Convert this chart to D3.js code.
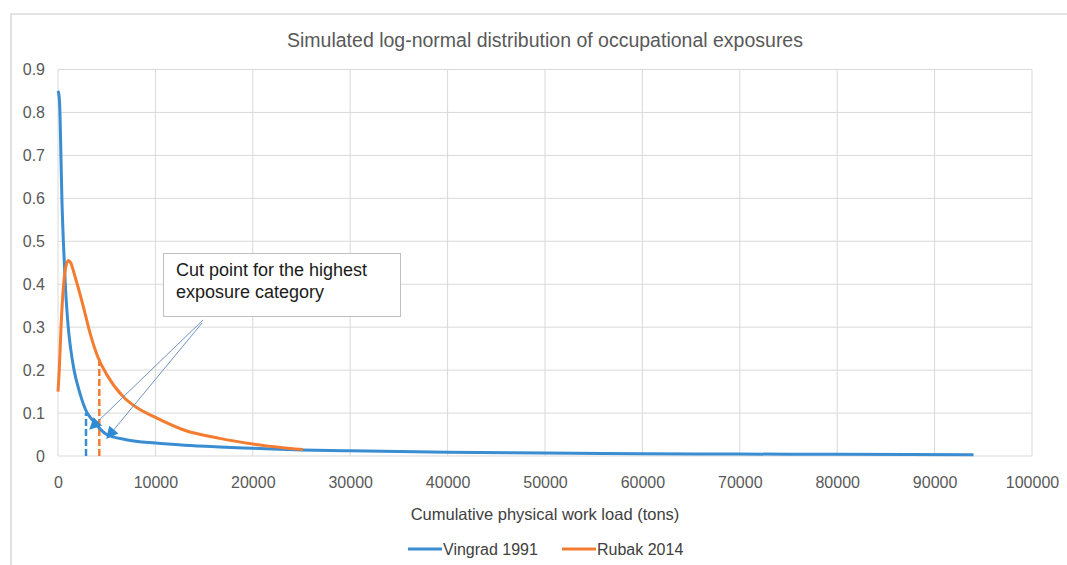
<!DOCTYPE html>
<html lang="en">
<head>
    <meta charset="UTF-8">
    <title>Simulated log-normal distribution</title>
    <script type="text/javascript" src="https://d3js.org/d3.v7.min.js"></script>
    <style>
        body { margin: 0; background: #fff; }
        text { font-family: "Liberation Sans", Arial, sans-serif; }
    </style>
</head>
<body>
<svg width="1067" height="565"></svg>
<script>
    // values
    var vingradX = [0, 100, 200, 300, 400, 550, 750, 1050, 1300, 1650, 2200, 3000, 3500, 5000, 7000, 10000, 13000, 16600, 20000, 25000, 30000, 40000, 50000, 60000, 70000, 80000, 94000];
    var vingradY = [0.85, 0.84, 0.80, 0.70, 0.60, 0.50, 0.40, 0.30, 0.25, 0.20, 0.15, 0.10, 0.085, 0.05, 0.038, 0.03, 0.025, 0.021, 0.018, 0.014, 0.012, 0.009, 0.007, 0.0055, 0.0045, 0.004, 0.003];

    var rubakX = [0, 130, 310, 580, 800, 1060, 1300, 1745, 2600, 3290, 4100, 5000, 6700, 8000, 10000, 13000, 16600, 20000, 25150];
    var rubakY = [0.15, 0.20, 0.30, 0.40, 0.44, 0.455, 0.45, 0.418, 0.348, 0.286, 0.23, 0.19, 0.138, 0.114, 0.09, 0.06, 0.041, 0.028, 0.015];

    var seriesNames = ["Vingrad 1991", "Rubak 2014"];
    var seriesColors = ["#3a8dd0", "#f47c30"];

    // cut points (dashed verticals) : x value and height
    var cutX = [2875, 4240];
    var cutY = [0.10, 0.23];

    // annotation arrows, tips in data units
    var arrowTipX = [3290, 5030];
    var arrowTipY = [0.063, 0.042];
    var arrowFromX = [14900, 14800];
    var arrowFromY = [0.317, 0.310];

    var xTicks = d3.range(0, 100001, 10000);
    var yTicks = [0, 0.1, 0.2, 0.3, 0.4, 0.5, 0.6, 0.7, 0.8, 0.9];

    var svg = d3.select("svg");
    var plotLeft = 58, plotRight = 1032, plotTop = 69.5, plotBottom = 456;

    var x = d3.scaleLinear().domain([0, 100000]).range([plotLeft, plotRight]);
    var y = d3.scaleLinear().domain([0, 0.9]).range([plotBottom, plotTop]);

    // outer chart border (only top and left visible)
    svg.append("path")
        .attr("d", "M11,565V14H1067")
        .attr("fill", "none")
        .attr("stroke", "#d9d9d9")
        .attr("stroke-width", 1.5);

    svg.append("text")
        .attr("x", 545).attr("y", 47)
        .attr("text-anchor", "middle")
        .attr("fill", "#595959")
        .style("font-size", "19.5px")
        .text("Simulated log-normal distribution of occupational exposures");

    // grid
    var grid = svg.append("g");
    grid.selectAll(".hg")
        .data(yTicks)
        .enter().append("line")
        .attr("x1", plotLeft).attr("x2", plotRight)
        .attr("y1", d => y(d)).attr("y2", d => y(d))
        .attr("stroke", "#d9d9d9").attr("stroke-width", 1);
    grid.selectAll(".vg")
        .data(xTicks)
        .enter().append("line")
        .attr("x1", d => x(d)).attr("x2", d => x(d))
        .attr("y1", plotTop).attr("y2", plotBottom)
        .attr("stroke", "#d9d9d9").attr("stroke-width", 1);

    // axes (labels only)
    var xAxis = svg.append("g")
        .attr("transform", "translate(0," + plotBottom + ")")
        .call(d3.axisBottom(x).tickValues(xTicks).tickSize(0).tickPadding(32).tickFormat(d3.format("d")));
    var yAxis = svg.append("g")
        .attr("transform", "translate(" + plotLeft + ",0)")
        .call(d3.axisLeft(y).tickValues(yTicks).tickSize(0).tickPadding(13).tickFormat(d => d === 0 ? "0" : d3.format(".1f")(d)));
    [xAxis, yAxis].forEach(function (a) {
        a.select(".domain").remove();
        a.selectAll("text")
            .attr("fill", "#595959")
            .style("font-size", "16px")
            .style("font-family", "'Liberation Sans', Arial, sans-serif");
    });
    xAxis.selectAll("text").attr("dy", "0");

    svg.append("text")
        .attr("x", 545).attr("y", 520)
        .attr("text-anchor", "middle")
        .attr("fill", "#404040")
        .style("font-size", "16.5px")
        .text("Cumulative physical work load (tons)");

    // curves
    var line = d3.line()
        .x(d => x(d[0]))
        .y(d => y(d[1]))
        .curve(d3.curveMonotoneX);

    var series = [d3.zip(vingradX, vingradY), d3.zip(rubakX, rubakY)];

    // cut point dashes
    svg.selectAll(".cut")
        .data(cutX)
        .enter().append("line")
        .attr("x1", d => x(d)).attr("x2", d => x(d))
        .attr("y1", y(0)).attr("y2", (d, i) => y(cutY[i]))
        .attr("stroke", (d, i) => seriesColors[i])
        .attr("stroke-width", 2.5)
        .attr("stroke-dasharray", "7,3");

    svg.selectAll(".series")
        .data(series)
        .enter().append("path")
        .attr("d", line)
        .attr("fill", "none")
        .attr("stroke", (d, i) => seriesColors[i])
        .attr("stroke-width", 3)
        .attr("stroke-linejoin", "round");

    // annotation box
    svg.append("rect")
        .attr("x", 163.5).attr("y", 253.5)
        .attr("width", 237).attr("height", 63)
        .attr("fill", "#fff")
        .attr("stroke", "#bfbfbf")
        .attr("stroke-width", 1);
    var note = svg.append("text")
        .attr("fill", "#1a1a1a")
        .style("font-size", "18px");
    note.append("tspan").attr("x", 176).attr("y", 276).text("Cut point for the highest");
    note.append("tspan").attr("x", 176).attr("y", 298).text("exposure category");

    svg.append("defs").append("marker")
        .attr("id", "tri")
        .attr("viewBox", "0 0 10 10")
        .attr("refX", 9).attr("refY", 5)
        .attr("markerWidth", 14).attr("markerHeight", 12)
        .attr("markerUnits", "userSpaceOnUse")
        .attr("orient", "auto")
        .append("path")
        .attr("d", "M0,0L10,5L0,10Z")
        .attr("fill", "#2e8bd1");

    svg.selectAll(".arrow")
        .data(arrowTipX)
        .enter().append("line")
        .attr("x1", (d, i) => x(arrowFromX[i]))
        .attr("y1", (d, i) => y(arrowFromY[i]))
        .attr("x2", d => x(d))
        .attr("y2", (d, i) => y(arrowTipY[i]))
        .attr("stroke", "#6f93bf")
        .attr("stroke-width", 1)
        .attr("marker-end", "url(#tri)");

    // legend
    var legendX = [408, 562];
    var legend = svg.selectAll(".leg")
        .data(seriesNames)
        .enter().append("g")
        .attr("transform", (d, i) => "translate(" + legendX[i] + ",549)");
    legend.append("line")
        .attr("x1", 0).attr("x2", 34)
        .attr("stroke", (d, i) => seriesColors[i])
        .attr("stroke-width", 3);
    legend.append("text")
        .attr("x", 35).attr("y", 5.5)
        .attr("fill", "#404040")
        .style("font-size", "16px")
        .text(d => d);
</script>
</body>
</html>
